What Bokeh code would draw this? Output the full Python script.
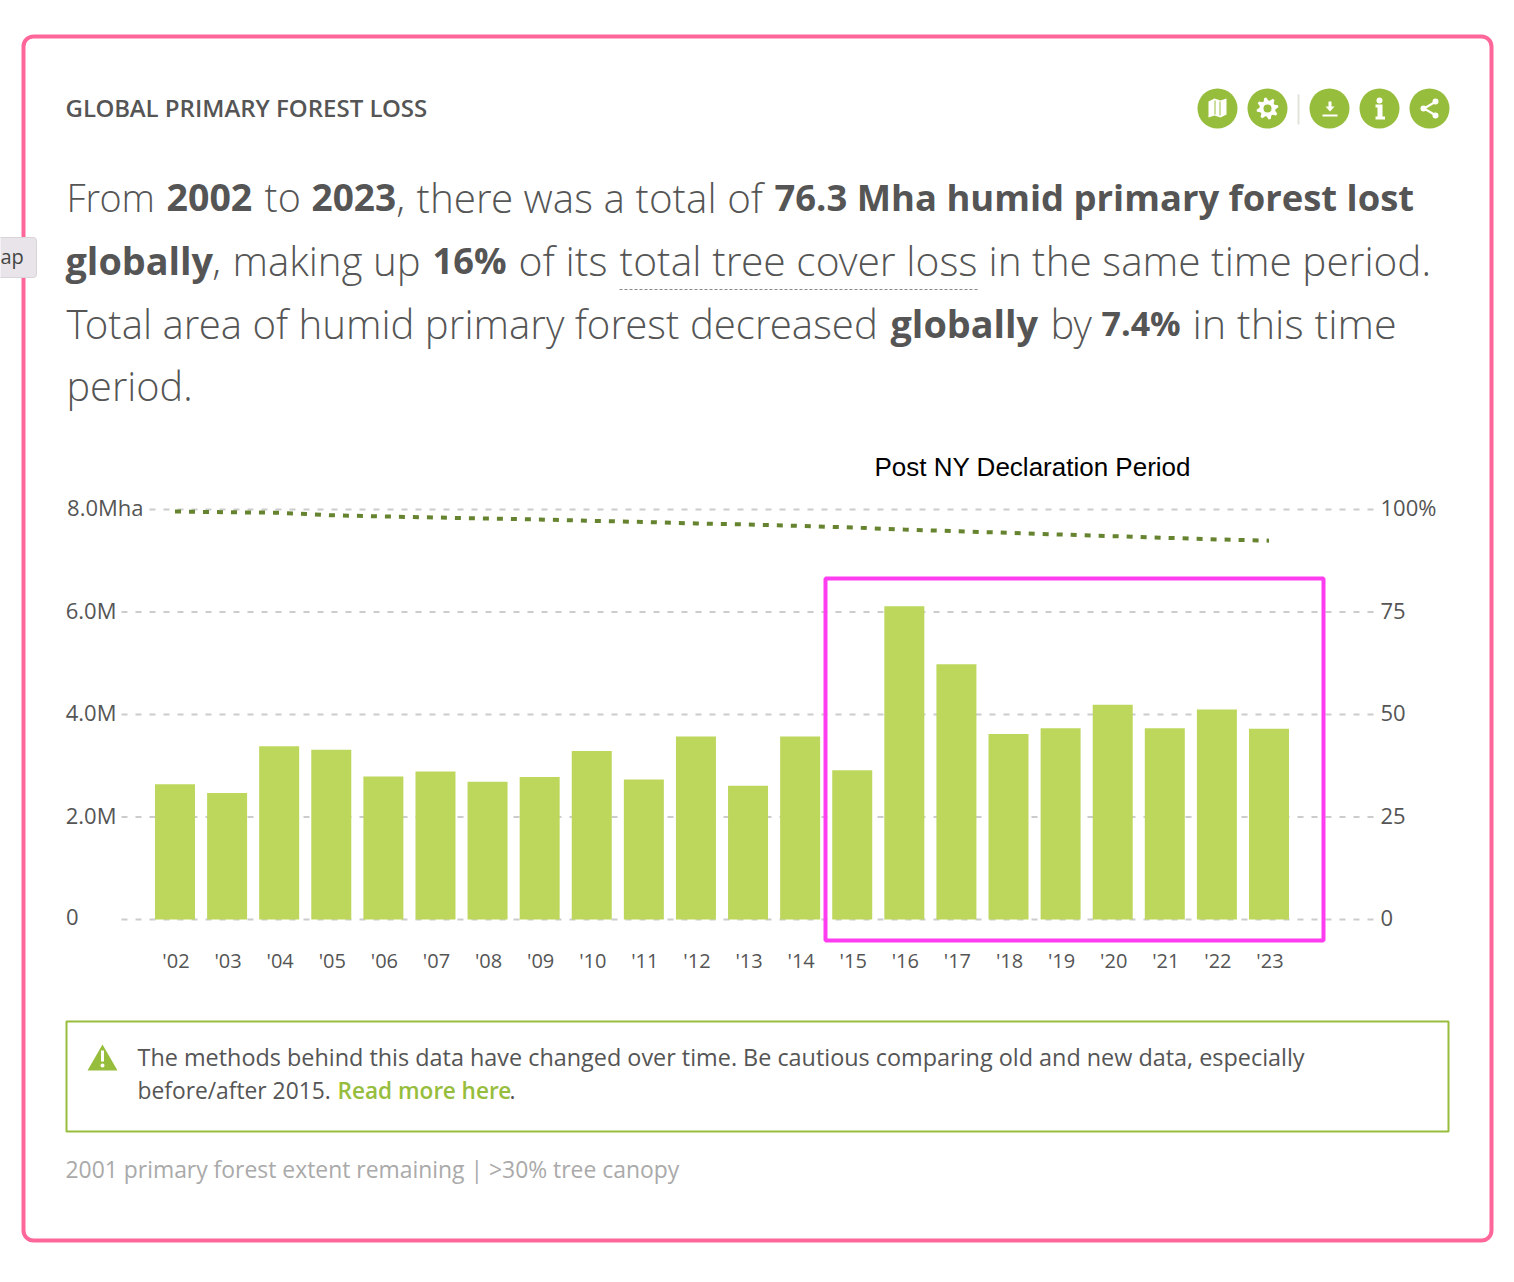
import math
from bokeh.plotting import figure
from bokeh.models import Range1d, Label, BoxAnnotation, PolyAnnotation, FixedTicker, LinearAxis
from bokeh.embed import file_html
from bokeh.resources import INLINE

years = list(range(2002, 2024))
year_labels = ["'02","'03","'04","'05","'06","'07","'08","'09","'10","'11","'12","'13","'14","'15","'16","'17","'18","'19","'20","'21","'22","'23"]
loss_mha = [2.64,2.47,3.38,3.31,2.79,2.89,2.69,2.78,3.29,2.73,3.57,2.61,3.57,2.91,6.11,4.98,3.62,3.73,4.19,3.73,4.10,3.72]
extent_pct = [99.51,99.34,99.2,98.6,98.3,98.05,97.8,97.56,97.24,96.95,96.6,96.34,96.0,95.6,95.1,94.7,94.3,93.9,93.5,93.1,92.7,92.4]
left_ticks = [0,2,4,6,8]
left_labels = ["0","2.0M","4.0M","6.0M","8.0Mha"]
right_ticks = [0,25,50,75,100]
right_labels = ["0","25","50","75","100%"]

GREEN = "#97bd3d"; TXT = "#555555"
LIGHT = "Open Sans Light"; REG = "Open Sans"; SEMI = "Open Sans SemiBold"; AX = "Open Sans"

OX, OY = 1, 0
W, H = 1500, 1270
FL, FR, FT, FB = 122, 1378, 509, 919
PX_MHA = 51.25; PX_YEAR = 52.095
LABEL_LIFT = 2.2  # px the axis labels sit above their gridlines
LABEL_NUDGE = 1   # px the year labels sit right of their bars

p = figure(width=W, height=H, output_backend="svg", toolbar_location=None,
           x_range=Range1d(OX, OX+W), y_range=Range1d(OY+H, OY),
           x_axis_location=None, y_axis_location=None,
           min_border=0, outline_line_color=None, background_fill_color="white", border_fill_color="white")
p.xgrid.visible = False; p.ygrid.visible = False
p.extra_x_ranges["year"] = Range1d(2002+(OX-175.5)/PX_YEAR, 2002+(OX+W-175.5)/PX_YEAR)
p.extra_x_ranges["year_labels"] = Range1d(2002+(OX-175.5-LABEL_NUDGE)/PX_YEAR, 2002+(OX+W-175.5-LABEL_NUDGE)/PX_YEAR)
p.extra_y_ranges["mha"] = Range1d((FB-OY-H)/PX_MHA, (FB-OY)/PX_MHA)
p.extra_y_ranges["pct"] = Range1d((FB-OY-H)/PX_MHA*12.5, (FB-OY)/PX_MHA*12.5)
p.extra_y_ranges["mha_labels"] = Range1d((FB-OY-H-LABEL_LIFT)/PX_MHA, (FB-OY-LABEL_LIFT)/PX_MHA)
p.extra_y_ranges["pct_labels"] = Range1d((FB-OY-H-LABEL_LIFT)/PX_MHA*12.5, (FB-OY-LABEL_LIFT)/PX_MHA*12.5)

def style_axis(a, size=22):
    a.axis_line_color = None
    a.major_tick_line_color = None
    a.minor_tick_line_color = None
    a.major_label_text_color = TXT
    a.major_label_text_font = AX
    a.major_label_text_font_size = f"{size}px"

xa = LinearAxis(x_range_name="year_labels", y_range_name="mha", ticker=FixedTicker(ticks=years), fixed_location=0)
xa.major_label_overrides = dict(zip(years, year_labels))
style_axis(xa, 20); xa.major_label_standoff = 21
p.add_layout(xa, "below")

# the left labels all start at one x, so each width group gets an axis of its own
for tick_set, right_edge in [([0], 85), ([2, 4, 6], 123), ([8], 150)]:
    ya = LinearAxis(y_range_name="mha_labels", ticker=FixedTicker(ticks=tick_set), fixed_location=right_edge)
    ya.major_label_overrides = {t: left_labels[left_ticks.index(t)] for t in tick_set}
    style_axis(ya); ya.major_label_standoff = 0
    p.add_layout(ya, "left")

ra = LinearAxis(y_range_name="pct_labels", ticker=FixedTicker(ticks=right_ticks), fixed_location=FR-7)
ra.major_label_overrides = dict(zip(right_ticks, right_labels))
style_axis(ra); ra.major_label_standoff = 4
p.add_layout(ra, "right")

p.segment(x0=[150 if t == max(left_ticks) else FL for t in left_ticks], x1=[FR]*len(left_ticks), y0=left_ticks, y1=left_ticks,
          y_range_name="mha", line_color="#cccccc", line_width=2, line_dash="6 8")
p.vbar(x=years, top=loss_mha, width=40/PX_YEAR, bottom=0, color="#bdd75d", line_color=None, x_range_name="year", y_range_name="mha")
p.line(x=years, y=extent_pct, x_range_name="year", y_range_name="pct", line_color="#66832f", line_width=4, line_dash="6 8")

def T(x, y, s, font=REG, size=22, color=TXT, style="normal", align="left"):
    p.add_layout(Label(x=x, y=y-1.5, text=s, text_font=font, text_font_size=f"{size}px", text_color=color,
                       text_font_style=style, text_align=align, text_baseline="middle"))

def B(l, t, r, b, fill=None, line=None, lw=0, radius=0, dash="solid"):
    p.add_layout(BoxAnnotation(left=l, right=r, top=t, bottom=b,
                               fill_color=fill, fill_alpha=1 if fill else 0, line_color=line, line_width=lw,
                               line_alpha=1 if line else 0, line_dash=dash, border_radius=radius))

def P(xs, ys, fill="white"):
    p.add_layout(PolyAnnotation(xs=list(xs), ys=list(ys), fill_color=fill, fill_alpha=1, line_color=None))

# card
B(24, 36, 1492, 1240, line="#ff6699", lw=4, radius=10)
# tooltip stub
B(-6, 237, 37, 277, fill="#e9e4e9", line="#d8d4d8", lw=1, radius=3)
T(1, 257, "ap", REG, 20, "#444444")
# title
T(66, 108, "GLOBAL PRIMARY FOREST LOSS", SEMI, 24, TXT)
# icons
for cx in [1218, 1268, 1330, 1380, 1430]:
    B(cx-20, 88, cx+20, 128, fill=GREEN, radius=20)
B(1298, 94, 1300, 124, fill="#e3e3dc")
# map
P([1209,1215,1221,1227,1227,1221,1215,1209],[101,98,100,98,114,117,115,117])
B(1215, 100, 1216, 114, fill=GREEN); B(1220, 101, 1221, 115, fill=GREEN)
# gear
gx, gy = [], []
for k in range(32):
    a = 2*math.pi*k/32
    r = 11 if (k % 4) in (0, 1) else 8
    gx.append(1268+r*math.cos(a-0.3)); gy.append(108+r*math.sin(a-0.3))
P(gx, gy)
B(1264, 104, 1272, 112, fill=GREEN, radius=4)
# download
P([1329,1332,1332,1335,1330.5,1326,1329],[101,101,106,106,111,106,106]); B(1323, 114, 1338, 116, fill="white")
# info
B(1377, 97, 1383, 103, fill="white", radius=3)
P([1376,1383,1383,1385.5,1385.5,1376,1376,1378,1378,1376],[104,104,116,116,119,119,116,116,107,107])
# share
for (cx, cy) in [(1436,101),(1424,108),(1436,115)]:
    B(cx-3, cy-3, cx+3, cy+3, fill="white", radius=3)
P([1436,1437,1425,1424],[100,102,109,107]); P([1424,1425,1437,1436],[109,107,114,116])

# headline: (x, y, text, font, size, style)
for x, y, s, font, size, style in [
    (67,198,"From",LIGHT,37.8,"normal"),(167,198,"2002",REG,37.5,"bold"),(265,198,"to",LIGHT,39.5,"normal"),(312,198,"2023",REG,37,"bold"),
    (397,198,",",LIGHT,40,"normal"),(417,198,"there was a total of",LIGHT,40.4,"normal"),(775,198,"76.3 Mha humid primary forest lost",REG,36.4,"bold"),
    (66,261,"globally",REG,37.8,"bold"),(213,261,",",LIGHT,40,"normal"),(233,261,"making up",LIGHT,40.2,"normal"),(433,261,"16%",REG,36.2,"bold"),
    (519,261,"of its",LIGHT,41,"normal"),(620,261,"total tree cover loss",LIGHT,40.8,"normal"),(989,261,"in the same time period.",LIGHT,40.5,"normal"),
    (67,324,"Total area of humid primary forest decreased",LIGHT,40.2,"normal"),(891,324,"globally",REG,37.8,"bold"),(1051,324,"by",LIGHT,40,"normal"),
    (1102,324,"7.4%",REG,34,"bold"),(1193,324,"in this time",LIGHT,41.3,"normal"),
    (67,387,"period.",LIGHT,39.7,"normal")]:
    T(x, y, s, font, size, TXT, style)
p.segment(x0=[620], x1=[978], y0=[289], y1=[289], line_color="#888888", line_width=1, line_dash="3 2")

T(875, 468, "Post NY Declaration Period", "Liberation Sans", 26, "#000000")
B(826, 578, 1324, 940, line="#ff3df0", lw=4)

# notice
B(67, 1021, 1449, 1131, line=GREEN, lw=2)
P([88,103,118],[1070,1044,1070], GREEN)
B(101.5, 1050, 104.5, 1061, fill="white"); B(101, 1063, 105, 1067, fill="white", radius=2)
T(138, 1058, "The methods behind this data have changed over time. Be cautious comparing old and new data, especially", REG, 23.4)
T(138, 1091, "before/after 2015.", REG, 22.8)
T(338, 1091, "Read more here", SEMI, 22.6, GREEN)
T(510, 1091, ".", REG, 22.8)
T(66, 1170, "2001 primary forest extent remaining | >30% tree canopy", REG, 22.9, "#aaaaaa")

open("out.html", "w").write(file_html(p, INLINE))
